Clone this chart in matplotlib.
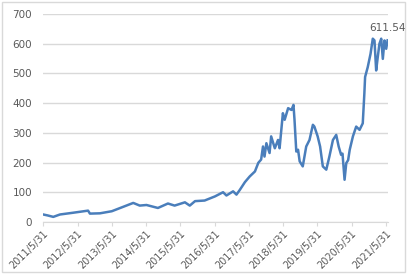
import matplotlib
matplotlib.use('Agg')
import matplotlib.pyplot as plt
from matplotlib.patches import Rectangle
import pandas as pd

# values
dates = ['2011-05-31', '2011-07-15', '2011-09-15', '2011-11-25', '2012-04-15',
         '2012-09-20', '2012-10-10', '2013-01-25', '2013-05-31', '2013-10-01',
         '2014-01-15', '2014-03-25', '2014-06-05', '2014-10-05', '2015-01-20',
         '2015-04-01', '2015-07-20', '2015-09-10', '2015-11-05', '2016-02-15',
         '2016-06-05', '2016-08-30', '2016-10-05', '2016-12-15', '2017-01-20',
         '2017-02-25', '2017-04-20', '2017-06-10', '2017-08-05', '2017-09-10',
         '2017-10-10', '2017-10-30', '2017-11-15', '2017-12-05', '2018-01-08',
         '2018-01-25', '2018-03-05', '2018-04-08', '2018-04-25', '2018-05-30',
         '2018-06-18', '2018-07-25', '2018-08-30', '2018-09-20', '2018-10-01',
         '2018-10-20', '2018-11-08', '2018-11-25', '2018-12-28', '2019-02-03',
         '2019-03-10', '2019-04-15', '2019-05-01', '2019-06-05', '2019-07-01',
         '2019-07-30', '2019-09-05', '2019-10-08', '2019-11-15', '2019-12-20',
         '2020-01-15', '2020-02-10', '2020-02-25', '2020-03-18', '2020-04-05',
         '2020-04-25', '2020-05-12', '2020-06-15', '2020-07-20', '2020-08-25',
         '2020-09-28', '2020-10-15', '2020-10-23', '2020-11-20', '2020-12-20',
         '2021-01-13', '2021-01-31', '2021-02-18', '2021-03-07', '2021-03-25',
         '2021-04-13', '2021-04-30', '2021-05-18', '2021-06-05', '2021-06-20']
values = [25, 22, 17, 25, 31,
          38, 28, 29, 36, 51,
          64, 55, 57, 47, 62,
          55, 66, 55, 70, 72,
          86, 100, 89, 103, 92,
          108, 134, 153, 170, 199,
          210, 254, 220, 265, 232,
          288, 248, 276, 248, 366,
          344, 383, 377, 394, 344,
          237, 243, 204, 187, 254,
          276, 327, 321, 288, 254,
          187, 176, 220, 276, 293,
          254, 226, 230, 142, 198,
          208, 243, 288, 321, 310,
          332, 432, 488, 521, 566,
          617, 611, 510, 555, 600,
          617, 549, 611, 583, 611.54]

tick_dates = ['2011-05-31', '2012-05-31', '2013-05-31', '2014-05-31', '2015-05-31',
              '2016-05-31', '2017-05-31', '2018-05-31', '2019-05-31', '2020-05-31',
              '2021-05-31']
tick_labels = ['2011/5/31', '2012/5/31', '2013/5/31', '2014/5/31', '2015/5/31',
               '2016/5/31', '2017/5/31', '2018/5/31', '2019/5/31', '2020/5/31',
               '2021/5/31']
y_ticks = [0, 100, 200, 300, 400, 500, 600, 700]

x = pd.to_datetime(dates)
grey = '#595959'

fig = plt.figure(figsize=(4.08, 2.75), dpi=100)
fig.patches.append(Rectangle((0.005, 0.01), 0.988, 0.982, transform=fig.transFigure,
                             fill=False, edgecolor='#d9d9d9', linewidth=1))
ax = fig.add_axes([0.106, 0.193, 0.844, 0.756])

ax.plot(x, values, color='#4a7ebb', linewidth=1.8, solid_joinstyle='round')
ax.annotate('611.54', (x[-1], values[-1]), xytext=(0, 5), textcoords='offset points',
            ha='center', va='bottom', fontsize=7.5, color=grey)

ax.set_ylim(0, 700)
ax.set_yticks(y_ticks)
ax.set_xlim(x[0], x[-1])
ax.set_xticks(pd.to_datetime(tick_dates))
ax.set_xticklabels(tick_labels, rotation=45, ha='right', rotation_mode='anchor')
ax.grid(axis='y', color='#d9d9d9', linewidth=1)
ax.set_axisbelow(True)

for s in ['top', 'right', 'left']:
    ax.spines[s].set_visible(False)
ax.spines['bottom'].set_color('#d9d9d9')
ax.tick_params(axis='y', length=0, labelsize=7.5, labelcolor=grey, pad=8)
ax.tick_params(axis='x', length=3, color='#d9d9d9', labelsize=7, labelcolor=grey, pad=2)

fig.savefig('out.png', dpi=100)
